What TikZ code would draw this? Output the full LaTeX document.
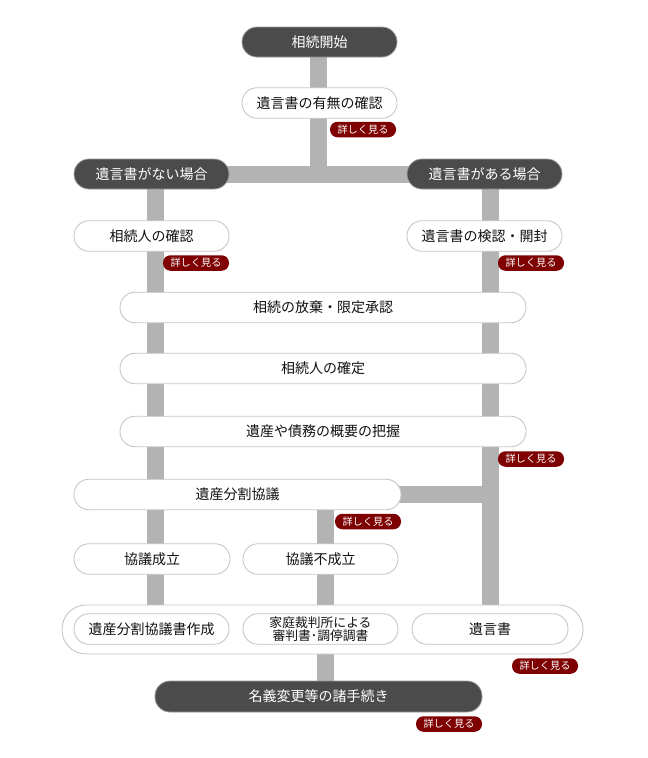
\documentclass[tikz,border=0pt]{standalone}
\usepackage{fontspec}
\setmainfont{Noto Sans CJK JP}
\usetikzlibrary{backgrounds}
\definecolor{barc}{HTML}{B3B3B3}
\definecolor{darkc}{HTML}{4B4B4B}
\definecolor{darkedge}{HTML}{9A9A9A}
\definecolor{lightedge}{HTML}{C6C6C6}
\definecolor{badgec}{HTML}{7F0000}
\definecolor{textc}{HTML}{111111}
\begin{document}
\begin{tikzpicture}[x=1pt,y=-1pt,
  every node/.style={inner sep=0pt,outer sep=0pt,align=center},
  whitebox/.style={draw=lightedge,line width=0.9pt,fill=white,rounded corners=15pt,
     text=textc,font=\fontsize{14}{15}\selectfont,minimum height=30.5pt},
  darkbox/.style={draw=darkedge,line width=0.8pt,fill=darkc,rounded corners=15pt,
     text=white,font=\fontsize{14}{15}\selectfont,minimum height=30pt},
  badge/.style={fill=badgec,rounded corners=7.5pt,text=white,
     font=\fontsize{10.2}{11}\selectfont,minimum width=66pt,minimum height=15.5pt},
  holder/.style={draw=lightedge,line width=0.9pt,fill=white,rounded corners=24pt,
     minimum width=521pt,minimum height=49pt},
  bar/.style={draw=barc,line width=17pt}
]
\useasboundingbox (0,0) rectangle (648,758);

% top
\node[darkbox,minimum width=155pt] (start) at (319.5,42) {相続開始};
\node[whitebox,minimum width=155pt] (umu) at (319.5,103) {遺言書の有無の確認};
\node[badge] (b1) at (363,129.5) {詳しく見る};

\node[darkbox,minimum width=155pt] (nashi) at (151.5,174) {遺言書がない場合};
\node[darkbox,minimum width=155pt] (ari) at (484.5,174) {遺言書がある場合};

\node[whitebox,minimum width=155pt] (heir) at (151.5,236) {相続人の確認};
\node[whitebox,minimum width=155pt] (kenin) at (484.5,236) {遺言書の検認・開封};
\node[badge] (b2) at (196,263) {詳しく見る};
\node[badge] (b3) at (531,263) {詳しく見る};

\node[whitebox,minimum width=406pt] (houki) at (323,307.5) {相続の放棄・限定承認};
\node[whitebox,minimum width=406pt] (kakutei) at (323,368.5) {相続人の確定};
\node[whitebox,minimum width=406pt] (haaku) at (323,431.5) {遺産や債務の概要の把握};
\node[badge] (b4) at (531,459) {詳しく見る};

\node[whitebox,minimum width=327pt] (kyogi) at (237.5,494.5) {遺産分割協議};
\node[badge] (b5) at (368,521.5) {詳しく見る};

\node[whitebox,minimum width=156pt] (seiritsu) at (152,559) {協議成立};
\node[whitebox,minimum width=155pt] (fuseiritsu) at (320.5,559) {協議不成立};

\node[holder] (holder) at (322.5,629.5) {};
\node[whitebox,minimum width=155pt] (sakusei) at (151.5,629) {遺産分割協議書作成};
\node[whitebox,minimum width=155pt,font=\fontsize{12.8}{13}\selectfont] (saiban) at (320.5,629) {家庭裁判所による\\審判書･調停調書};
\node[whitebox,minimum width=156pt] (igon) at (490,629) {遺言書};
\node[badge] (b6) at (545,666) {詳しく見る};

\node[darkbox,minimum width=327pt,minimum height=31pt] (meigi) at (318.5,696.5) {名義変更等の諸手続き};
\node[badge] (b7) at (449,724) {詳しく見る};

% connector coordinates
\coordinate (lx) at (155.5,174);
\coordinate (mx) at (325.5,494.5);
\coordinate (tx) at (318.5,42);

\begin{scope}[on background layer]
  % top trunk
  \draw[bar] (tx) -- (tx |- nashi.center);
  \draw[bar] (nashi.center) -- (ari.center);
  % left branch
  \draw[bar] (lx) -- (lx |- holder.north);
  % right branch
  \draw[bar] (igon.center |- ari.center) -- (igon.center |- holder.north);
  % kyogi to right
  \draw[bar] (kyogi.center) -- (kyogi.center -| igon.center);
  % middle branch
  \draw[bar] (mx) -- (mx |- meigi.center);
\end{scope}
\end{tikzpicture}
\end{document}
